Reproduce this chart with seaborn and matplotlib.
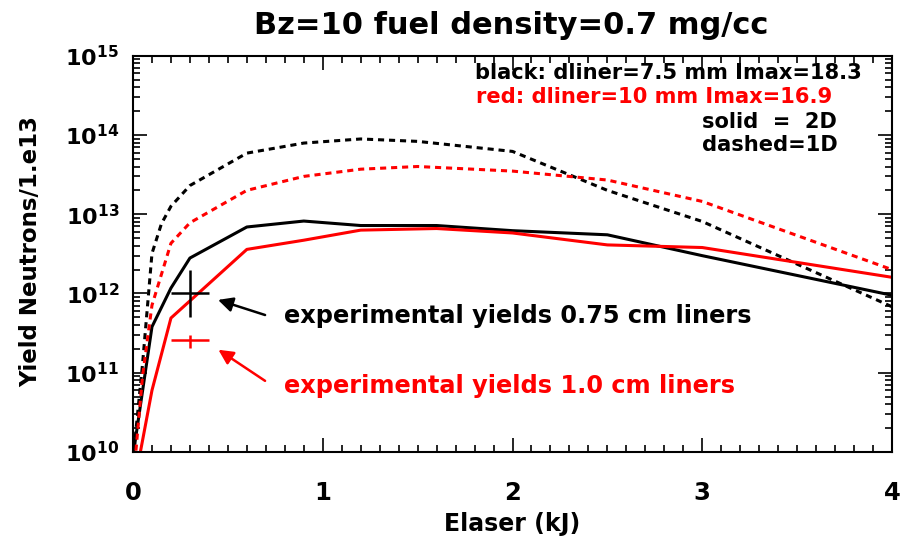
import numpy as np
import pandas as pd
import matplotlib
matplotlib.use("Agg")
import matplotlib.pyplot as plt
from matplotlib.ticker import MultipleLocator, LogLocator, NullFormatter
import seaborn as sns

# ---------------- data ----------------
title = "Bz=10 fuel density=0.7 mg/cc"
x_label = "Elaser (kJ)"
y_label = "Yield Neutrons/1.e13"

black_2d_x = [0.0, 0.1, 0.2, 0.3, 0.6, 0.9, 1.2, 1.6, 2.0, 2.5, 3.0, 4.0]
black_2d_y = [8.9e9, 3.8e11, 1.17e12, 2.8e12, 6.9e12, 8.2e12, 7.2e12, 7.2e12, 6.2e12, 5.5e12, 3.0e12, 9.5e11]

red_2d_x = [0.0, 0.1, 0.2, 0.6, 0.9, 1.2, 1.6, 2.0, 2.5, 3.0, 4.0]
red_2d_y = [3.2e9, 6.0e10, 4.9e11, 3.6e12, 4.7e12, 6.3e12, 6.6e12, 5.8e12, 4.1e12, 3.8e12, 1.6e12]

black_1d_x = [0.0, 0.05, 0.1, 0.15, 0.2, 0.3, 0.6, 0.9, 1.2, 1.5, 2.0, 2.5, 3.0, 4.0]
black_1d_y = [8.0e9, 1.26e11, 3.2e12, 7.6e12, 1.26e13, 2.3e13, 5.9e13, 7.9e13, 8.9e13, 8.3e13, 6.2e13, 2.0e13, 8.1e12, 6.8e11]

red_1d_x = [0.0, 0.05, 0.1, 0.2, 0.3, 0.6, 0.9, 1.2, 1.5, 2.0, 2.5, 3.0, 4.0]
red_1d_y = [4.0e9, 8.9e10, 7.1e11, 4.3e12, 7.8e12, 2.0e13, 3.0e13, 3.7e13, 4.0e13, 3.5e13, 2.7e13, 1.45e13, 2.0e12]

exp_x = [0.3, 0.3]
exp_y = [1.0e12, 2.6e11]
exp_xerr = [0.1, 0.1]
exp_yerr_low = [4.9e11, 5.5e10]
exp_yerr_high = [1.0e12, 4.0e10]
exp_colors = ["black", "red"]
exp_texts = ["experimental yields 0.75 cm liners", "experimental yields 1.0 cm liners"]

info_texts = ["black: dliner=7.5 mm Imax=18.3", "red: dliner=10 mm Imax=16.9",
              "solid  =  2D", "dashed=1D"]
info_colors = ["black", "red", "black", "black"]

x_ticks = [0, 1, 2, 3, 4]
x_tick_labels = ["0", "1", "2", "3", "4"]
y_ticks = [1e10, 1e11, 1e12, 1e13, 1e14, 1e15]
y_tick_labels = [r"$10^{10}$", r"$10^{11}$", r"$10^{12}$", r"$10^{13}$", r"$10^{14}$", r"$10^{15}$"]

# ---------------- style ----------------
RED = "#ff0000"
sns.set_theme(style="ticks")
plt.rcParams["font.family"] = ["DejaVu Sans"]
plt.rcParams["font.weight"] = "bold"
plt.rcParams["mathtext.fontset"] = "custom"
plt.rcParams["mathtext.rm"] = "DejaVu Sans:bold"
plt.rcParams["mathtext.it"] = "DejaVu Sans:bold"
plt.rcParams["mathtext.bf"] = "DejaVu Sans:bold"
plt.rcParams["mathtext.default"] = "rm"
plt.rcParams["text.color"] = "black"
plt.rcParams["axes.labelcolor"] = "black"
plt.rcParams["xtick.color"] = "black"
plt.rcParams["ytick.color"] = "black"

frames = []
for xs, ys, liner, dim in [(black_2d_x, black_2d_y, "black", "2D"),
                           (red_2d_x, red_2d_y, "red", "2D"),
                           (black_1d_x, black_1d_y, "black", "1D"),
                           (red_1d_x, red_1d_y, "red", "1D")]:
    frames.append(pd.DataFrame({"E": xs, "Y": ys, "liner": liner, "dim": dim}))
df = pd.concat(frames, ignore_index=True)

fig = plt.figure(figsize=(9.04, 5.41), dpi=100)
ax = fig.add_axes([133 / 904, 1 - 452 / 541, 759 / 904, 396.3 / 541])

sns.lineplot(data=df, x="E", y="Y", hue="liner", style="dim",
             palette={"black": "black", "red": RED},
             dashes={"2D": "", "1D": (2.0, 1.6)},
             estimator=None, sort=False, legend=False, linewidth=2.2, ax=ax)

ax.set_yscale("log")
ax.set_xlim(0, 4)
ax.set_ylim(1e10, 1e15)

for i in range(len(exp_x)):
    ax.errorbar([exp_x[i]], [exp_y[i]], xerr=[exp_xerr[i]],
                yerr=[[exp_yerr_low[i]], [exp_yerr_high[i]]],
                fmt="none", ecolor=RED if exp_colors[i] == "red" else "black",
                elinewidth=1.8, capsize=0)

# annotations with arrows
txt_pos = [(0.796, 4.22e11), (0.796, 5.53e10)]
arrow_tail = [(0.696, 5.35e11), (0.696, 7.9e10)]
arrow_head = [(0.448, 8.3e11), (0.450, 1.95e11)]
for i in range(2):
    c = RED if exp_colors[i] == "red" else "black"
    ax.text(txt_pos[i][0], txt_pos[i][1], exp_texts[i], color=c, fontsize=17.3,
            fontweight="bold", ha="left", va="baseline")
    ax.annotate("", xy=arrow_head[i], xytext=arrow_tail[i],
                arrowprops=dict(arrowstyle="-|>", color=c, lw=1.8,
                                mutation_scale=22, shrinkA=0, shrinkB=0))

info_px = [(475, 79.3), (476, 103.3), (702, 127.7), (702, 151.0)]
for t, c, (px, py) in zip(info_texts, info_colors, info_px):
    ax.text((px - 133) / 759, (452 - py) / 396.3, t, transform=ax.transAxes,
            color=RED if c == "red" else "black",
            fontsize=15.1, fontweight="bold", ha="left", va="baseline")

ax.set_xticks(x_ticks)
ax.set_xticklabels(x_tick_labels)
ax.set_yticks(y_ticks)
ax.set_yticklabels(y_tick_labels)
ax.xaxis.set_minor_locator(MultipleLocator(0.1))
ax.yaxis.set_minor_locator(LogLocator(base=10, subs=np.arange(2, 10), numticks=50))
ax.yaxis.set_minor_formatter(NullFormatter())

ax.tick_params(which="both", direction="in", top=True, right=True, width=1.2, colors="black")
ax.tick_params(which="major", length=10)
ax.tick_params(which="minor", length=5)
ax.tick_params(axis="x", which="major", pad=21, labelsize=17.5)
ax.tick_params(axis="y", which="major", pad=10, labelsize=16)
for lab in ax.get_xticklabels() + ax.get_yticklabels():
    lab.set_fontweight("bold")

for s in ax.spines.values():
    s.set_linewidth(1.5)
    s.set_color("black")

ax.set_xlabel(x_label, fontsize=17, fontweight="bold")
ax.set_ylabel(y_label, fontsize=16.5, fontweight="bold")
ax.xaxis.set_label_coords(0.5, (452 - 530.7) / 396.3)
ax.xaxis.label.set_va("baseline")
ax.yaxis.set_label_coords((37 - 133) / 759, (452 - 251) / 396.3)
ax.yaxis.label.set_va("baseline")

fig.text(511 / 904, 1 - 34.5 / 541, title, fontsize=22, fontweight="bold",
         ha="center", va="baseline")

fig.savefig("out.png", dpi=100)
